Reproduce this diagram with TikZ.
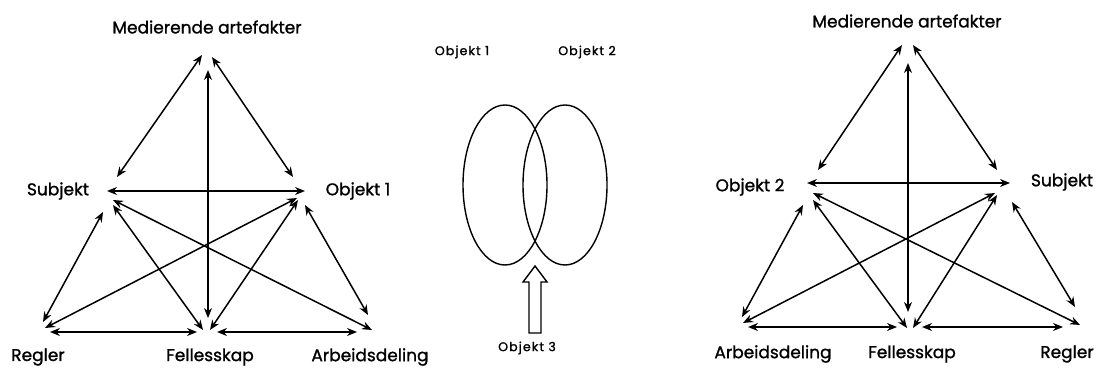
\documentclass[tikz,border=0pt]{standalone}
\usepackage{fontspec}
\setmainfont{Poppins}
\newfontfamily\lblfont{Poppins}[FakeBold=1.2]
\newfontfamily\smallfont{Poppins}[FakeBold=1.5,LetterSpace=9]
\usetikzlibrary{arrows.meta}
\begin{document}
\begin{tikzpicture}[x=1pt,y=-1pt,
  lbl/.style={font=\lblfont\fontsize{17}{20}\selectfont, inner sep=0pt},
  small/.style={font=\smallfont\fontsize{12.5}{14}\selectfont, inner sep=0pt},
  link/.style={{Stealth[length=10pt,width=8pt]}-{Stealth[length=10pt,width=8pt]}, line width=1.5pt},
  ring/.style={draw, line width=1.4pt},
  block/.style={draw, line width=1.4pt, fill=white}]
\useasboundingbox (0,0) rectangle (1102,371);

% ---------- left triangle ----------
\node[lbl] (lM) at (207,27) {Medierende artefakter};
\node[lbl] (lS) at (58,191) {Subjekt};
\node[lbl] (lO) at (358,191) {Objekt 1};
\node[lbl] (lR) at (38,357) {Regler};
\node[lbl] (lF) at (210,357) {Fellesskap};
\node[lbl] (lA) at (370,357) {Arbeidsdeling};

\coordinate (lMa) at (202,55);  \coordinate (lSa) at (117,177);
\coordinate (lMb) at (212,57);  \coordinate (lOa) at (293,177);
\coordinate (lMc) at (208,70);  \coordinate (lFa) at (208,318);
\coordinate (lSb) at (107,191); \coordinate (lOb) at (305,191);
\coordinate (lRa) at (43,322);  \coordinate (lSc) at (103,212);
\coordinate (lRb) at (45,328);  \coordinate (lOc) at (297,198);
\coordinate (lFb) at (203,330); \coordinate (lSd) at (113,205);
\coordinate (lFc) at (210,330); \coordinate (lOd) at (298,200);
\coordinate (lSe) at (113,200); \coordinate (lAa) at (372,330);
\coordinate (lOe) at (305,205); \coordinate (lAb) at (368,315);
\coordinate (lRc) at (50,332);  \coordinate (lFd) at (197,332);
\coordinate (lFe) at (217,332); \coordinate (lAc) at (357,332);

\draw[link] (lMa) -- (lSa);
\draw[link] (lMb) -- (lOa);
\draw[link] (lMc) -- (lFa);
\draw[link] (lSb) -- (lOb);
\draw[link] (lRa) -- (lSc);
\draw[link] (lRb) -- (lOc);
\draw[link] (lFb) -- (lSd);
\draw[link] (lFc) -- (lOd);
\draw[link] (lSe) -- (lAa);
\draw[link] (lOe) -- (lAb);
\draw[link] (lRc) -- (lFd);
\draw[link] (lFe) -- (lAc);

% ---------- middle ----------
\node[small] (mO1) at (462,52) {Objekt 1};
\node[small] (mO2) at (587,52) {Objekt 2};
\node[small] (mO3) at (527,348) {Objekt 3};
\draw[ring] (505,185) ellipse [x radius=42, y radius=80];
\draw[ring] (565,185) ellipse [x radius=42, y radius=80];
\draw[block] (535,266) -- (547,282) -- (541,282) -- (541,333) -- (529,333) -- (529,282) -- (523,282) -- cycle;

% ---------- right triangle ----------
\node[lbl] (rM) at (907,21) {Medierende artefakter};
\node[lbl] (rO) at (750,187) {Objekt 2};
\node[lbl] (rS) at (1062,182) {Subjekt};
\node[lbl] (rA) at (773,354) {Arbeidsdeling};
\node[lbl] (rF) at (912,354) {Fellesskap};
\node[lbl] (rR) at (1067,354) {Regler};

\coordinate (rMa) at (902,45);  \coordinate (rOa) at (818,170);
\coordinate (rMb) at (913,45);  \coordinate (rSa) at (997,170);
\coordinate (rMc) at (908,63);  \coordinate (rFa) at (908,312);
\coordinate (rOb) at (807,183); \coordinate (rSb) at (1010,183);
\coordinate (rAa) at (742,317); \coordinate (rOc) at (803,205);
\coordinate (rAb) at (743,323); \coordinate (rSc) at (995,193);
\coordinate (rFb) at (907,328); \coordinate (rOd) at (813,200);
\coordinate (rFc) at (913,328); \coordinate (rSd) at (997,195);
\coordinate (rOe) at (813,193); \coordinate (rRa) at (1080,325);
\coordinate (rSe) at (1012,202);\coordinate (rRb) at (1075,307);
\coordinate (rAc) at (748,327); \coordinate (rFd) at (897,327);
\coordinate (rFe) at (922,327); \coordinate (rRc) at (1063,327);

\draw[link] (rMa) -- (rOa);
\draw[link] (rMb) -- (rSa);
\draw[link] (rMc) -- (rFa);
\draw[link] (rOb) -- (rSb);
\draw[link] (rAa) -- (rOc);
\draw[link] (rAb) -- (rSc);
\draw[link] (rFb) -- (rOd);
\draw[link] (rFc) -- (rSd);
\draw[link] (rOe) -- (rRa);
\draw[link] (rSe) -- (rRb);
\draw[link] (rAc) -- (rFd);
\draw[link] (rFe) -- (rRc);
\end{tikzpicture}
\end{document}
